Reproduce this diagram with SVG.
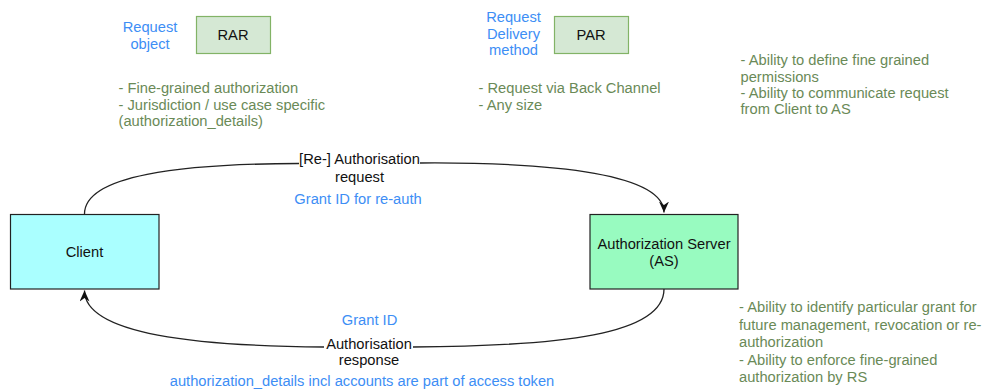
<svg xmlns="http://www.w3.org/2000/svg" width="984" height="390" viewBox="0 0 984 390">
  <style>
    text { font-family: "Liberation Sans", Arial, Helvetica, sans-serif; font-size: 14.7px; }
    .dark { fill: #111111; }
    .blue { fill: #3d8ef5; }
    .note { fill: #6a8a57; }
    .mid { text-anchor: middle; }
    .spec { fill: #d5e8d4; stroke: #82b366; stroke-width: 1.2; }
    .actor { stroke: #222222; stroke-width: 1.2; }
    .edge { fill: none; stroke: #222222; stroke-width: 1.3; }
  </style>
  <defs>
    <marker id="arrow" markerUnits="userSpaceOnUse" markerWidth="14" markerHeight="12" refX="11" refY="5" orient="auto">
      <path d="M0,0 L11,5 L0,10 L3.5,5 Z" fill="#111111"/>
    </marker>
  </defs>

  <rect width="984" height="390" fill="#ffffff"/>

  <!-- RAR: request object -->
  <g id="rar">
    <text class="blue mid" x="150" y="31.5">Request</text>
    <text class="blue mid" x="150" y="48.5">object</text>
    <rect class="spec" x="196.5" y="16.5" width="74" height="37"/>
    <text class="dark mid" x="233" y="40">RAR</text>
    <text class="note" x="118.5" y="93">- Fine-grained authorization</text>
    <text class="note" x="118.5" y="109.5">- Jurisdiction / use case specific</text>
    <text class="note" x="118.5" y="126">(authorization_details)</text>
  </g>

  <!-- PAR: request delivery method -->
  <g id="par">
    <text class="blue mid" x="513.5" y="21.5">Request</text>
    <text class="blue mid" x="513.5" y="38.5">Delivery</text>
    <text class="blue mid" x="513.5" y="55">method</text>
    <rect class="spec" x="554.5" y="16.5" width="74" height="37"/>
    <text class="dark mid" x="591" y="40">PAR</text>
    <text class="note" x="478.5" y="93">- Request via Back Channel</text>
    <text class="note" x="478.5" y="109.5">- Any size</text>
  </g>

  <!-- Request capabilities -->
  <g id="request-notes">
    <text class="note" x="740.5" y="65">- Ability to define fine grained</text>
    <text class="note" x="740.5" y="81.5">permissions</text>
    <text class="note" x="740.5" y="98">- Ability to communicate request</text>
    <text class="note" x="740.5" y="114">from Client to AS</text>
  </g>

  <!-- Client -->
  <g id="client">
    <rect class="actor" x="10.5" y="214.5" width="148.5" height="74.5" fill="#aaffff"/>
    <text class="dark mid" x="84.5" y="257">Client</text>
  </g>

  <!-- Authorization Server -->
  <g id="authorization-server">
    <rect class="actor" x="590" y="214.5" width="148" height="74.5" fill="#98fbc0"/>
    <text class="dark mid" x="664" y="249">Authorization Server</text>
    <text class="dark mid" x="664" y="266">(AS)</text>
  </g>

  <!-- Grant capabilities -->
  <g id="grant-notes">
    <text class="note" x="739" y="312">- Ability to identify particular grant for</text>
    <text class="note" x="739" y="329.5">future management, revocation or re-</text>
    <text class="note" x="739" y="347">authorization</text>
    <text class="note" x="739" y="364.5">- Ability to enforce fine-grained</text>
    <text class="note" x="739" y="382">authorization by RS</text>
  </g>

  <!-- Connectors -->
  <g id="connectors">
    <path class="edge" d="M84.5,214 C84.5,175 180,164 299,163.5 M420,163 C560,162 664,175 664,212.5" marker-end="url(#arrow)"/>
    <text class="dark mid" x="359.5" y="164">[Re-] Authorisation</text>
    <text class="dark mid" x="359.5" y="181.5">request</text>
    <text class="blue mid" x="358" y="203.5">Grant ID for re-auth</text>

    <path class="edge" d="M664,289 C664,335 560,346 413,347 M324,347 C200,346 84.5,335 84.5,290.5" marker-end="url(#arrow)"/>
    <text class="blue mid" x="369.5" y="324.5">Grant ID</text>
    <text class="dark mid" x="369" y="348.5">Authorisation</text>
    <text class="dark mid" x="369" y="364.5">response</text>
    <text class="blue mid" x="362" y="386">authorization_details incl accounts are part of access token</text>
  </g>
</svg>
